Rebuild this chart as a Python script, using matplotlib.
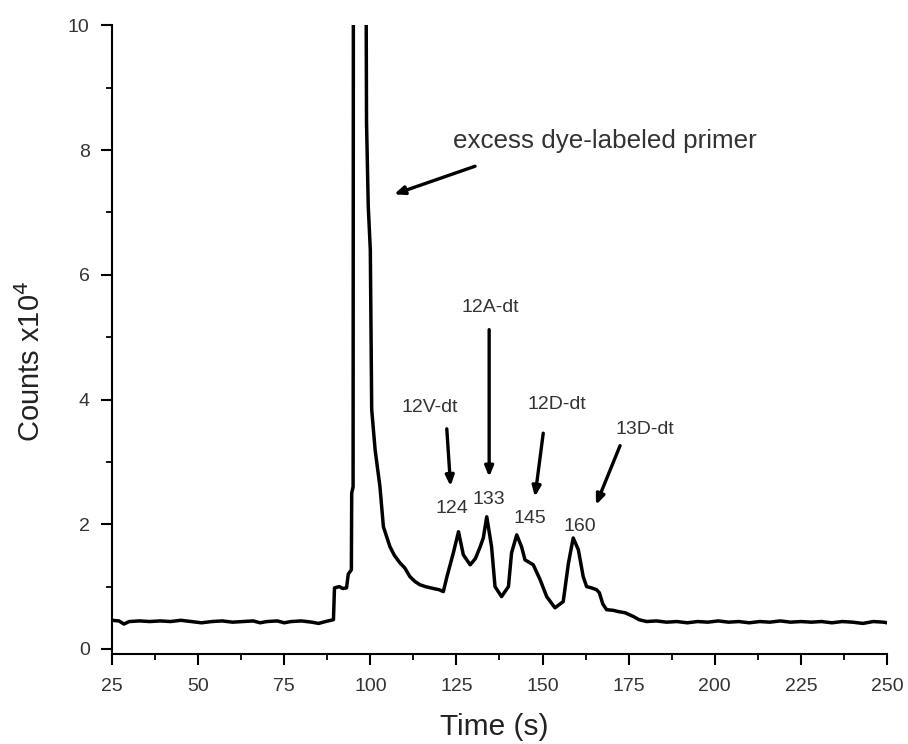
import matplotlib
matplotlib.use("Agg")
import matplotlib.pyplot as plt
from matplotlib.ticker import MultipleLocator

plt.rcParams["font.family"] = ["Liberation Sans", "DejaVu Sans"]

# Electropherogram trace (time in s, counts x10^4)
TIME = [
    25, 27, 28.5, 30, 33, 36, 39, 42, 45, 48, 51, 54, 57, 60, 63, 66, 68, 70,
    73, 75, 77, 80, 83, 85, 87, 89.3, 89.6, 91, 92, 93.1, 93.6, 94.5, 94.6,
    95.0, 95.1, 96.8, 98.8, 98.9, 99.4, 100.0, 100.3, 100.4, 101.4, 102.8,
    103.8, 105.7, 107.0, 108.6, 110.0, 111.5, 113.0, 114.4, 116.0, 118.3,
    120.0, 121.2, 122.2, 124.1, 125.6, 127.0, 129.0, 130.5, 131.9, 132.8,
    133.8, 135.2, 136.2, 138.1, 140.1, 141.0, 142.5, 143.9, 144.9, 147.3,
    149.3, 151.2, 153.6, 156.0, 157.5, 158.9, 160.4, 161.8, 162.8, 164.2,
    165.7, 166.5, 167.5, 168.6, 170.5, 172.0, 174.0, 176.4, 178.0, 180.2,
    183, 186, 189, 192, 195, 198, 201, 204, 207, 210, 213, 216, 219, 222,
    225, 228, 231, 234, 237, 240, 243, 246, 249, 250,
]
COUNTS = [
    0.46, 0.45, 0.40, 0.44, 0.45, 0.44, 0.45, 0.44, 0.46, 0.44, 0.42, 0.44,
    0.45, 0.43, 0.44, 0.45, 0.42, 0.44, 0.45, 0.42, 0.44, 0.45, 0.43, 0.41,
    0.44, 0.47, 0.98, 1.00, 0.97, 0.98, 1.20, 1.27, 2.50, 2.60, 12.0, 15.0,
    10.2, 8.45, 7.10, 6.40, 4.50, 3.84, 3.19, 2.60, 1.96, 1.64, 1.50, 1.38,
    1.30, 1.16, 1.08, 1.03, 1.00, 0.97, 0.95, 0.92, 1.15, 1.54, 1.88, 1.51,
    1.35, 1.45, 1.64, 1.78, 2.12, 1.64, 1.00, 0.84, 1.00, 1.54, 1.83, 1.64,
    1.43, 1.35, 1.11, 0.84, 0.66, 0.76, 1.37, 1.78, 1.59, 1.16, 1.00, 0.98,
    0.95, 0.90, 0.72, 0.63, 0.62, 0.60, 0.58, 0.52, 0.47, 0.44,
    0.45, 0.43, 0.44, 0.42, 0.44, 0.43, 0.45, 0.43, 0.44, 0.42, 0.44, 0.43,
    0.45, 0.43, 0.44, 0.43, 0.44, 0.42, 0.44, 0.43, 0.41, 0.44, 0.43, 0.42,
]

# peak retention times written above the peaks
PEAK_TEXT = ["124", "133", "145", "160"]
PEAK_TEXT_X = [123.6, 134.5, 146.4, 160.9]
PEAK_TEXT_Y = [2.26, 2.40, 2.10, 1.96]

# product names with arrows pointing at the peaks
BAND_TEXT = ["12V-dt", "12A-dt", "12D-dt", "13D-dt"]
BAND_TEXT_X = [117.3, 134.7, 154.1, 179.8]
BAND_TEXT_Y = [3.87, 5.47, 3.92, 3.52]
ARROW_TAIL_X = [122.2, 134.5, 150.2, 172.5]
ARROW_TAIL_Y = [3.53, 5.12, 3.46, 3.26]
ARROW_HEAD_X = [123.3, 134.5, 147.8, 165.5]
ARROW_HEAD_Y = [2.61, 2.76, 2.44, 2.31]

PRIMER_TEXT = "excess dye-labeled primer"
PRIMER_XY = (124.0, 8.14)
PRIMER_TAIL = (130.4, 7.74)
PRIMER_HEAD = (106.9, 7.29)

TEXT_COLOR = "#333333"

fig = plt.figure(figsize=(9.08, 7.44), dpi=100)
ax = fig.add_axes([0.1233, 0.121, 0.8536, 0.845])

ax.plot(TIME, COUNTS, color="black", linewidth=2.5, solid_joinstyle="round")

ax.set_xlim(25, 250)
ax.set_ylim(-0.08, 10)

for side in ["top", "right"]:
    ax.spines[side].set_visible(False)
for side in ["left", "bottom"]:
    ax.spines[side].set_linewidth(1.5)

ax.xaxis.set_major_locator(MultipleLocator(25))
ax.xaxis.set_minor_locator(MultipleLocator(12.5))
ax.yaxis.set_major_locator(MultipleLocator(2))
ax.yaxis.set_minor_locator(MultipleLocator(1))
ax.tick_params(which="major", direction="out", length=8, width=1.5,
               labelsize=14, labelcolor=TEXT_COLOR)
ax.tick_params(axis="x", which="major", pad=9)
ax.tick_params(axis="y", which="major", pad=8)
ax.tick_params(which="minor", direction="out", length=4.5, width=1.3)

ax.set_xlabel("Time (s)", fontsize=21.5, color="#222222")
ax.set_ylabel(r"Counts x10$^{4}$", fontsize=21, color="#222222")
ax.xaxis.set_label_coords(0.493, -0.094)
ax.yaxis.set_label_coords(-0.085, 0.466)

for txt, x, y in zip(PEAK_TEXT, PEAK_TEXT_X, PEAK_TEXT_Y):
    ax.text(x, y, txt, fontsize=14, color=TEXT_COLOR, ha="center", va="center")

arrow_style = dict(arrowstyle="-|>,head_length=0.6,head_width=0.25",
                   color="black", lw=2.4, shrinkA=0, shrinkB=0)
for txt, tx, ty, x0, y0, x1, y1 in zip(BAND_TEXT, BAND_TEXT_X, BAND_TEXT_Y,
                                       ARROW_TAIL_X, ARROW_TAIL_Y,
                                       ARROW_HEAD_X, ARROW_HEAD_Y):
    ax.text(tx, ty, txt, fontsize=14, color=TEXT_COLOR, ha="center", va="center")
    ax.annotate("", xy=(x1, y1), xytext=(x0, y0), arrowprops=arrow_style)

ax.text(PRIMER_XY[0], PRIMER_XY[1], PRIMER_TEXT, fontsize=18.7,
        color=TEXT_COLOR, ha="left", va="center")
ax.annotate("", xy=PRIMER_HEAD, xytext=PRIMER_TAIL, arrowprops=arrow_style)

fig.savefig("out.png", dpi=100)
